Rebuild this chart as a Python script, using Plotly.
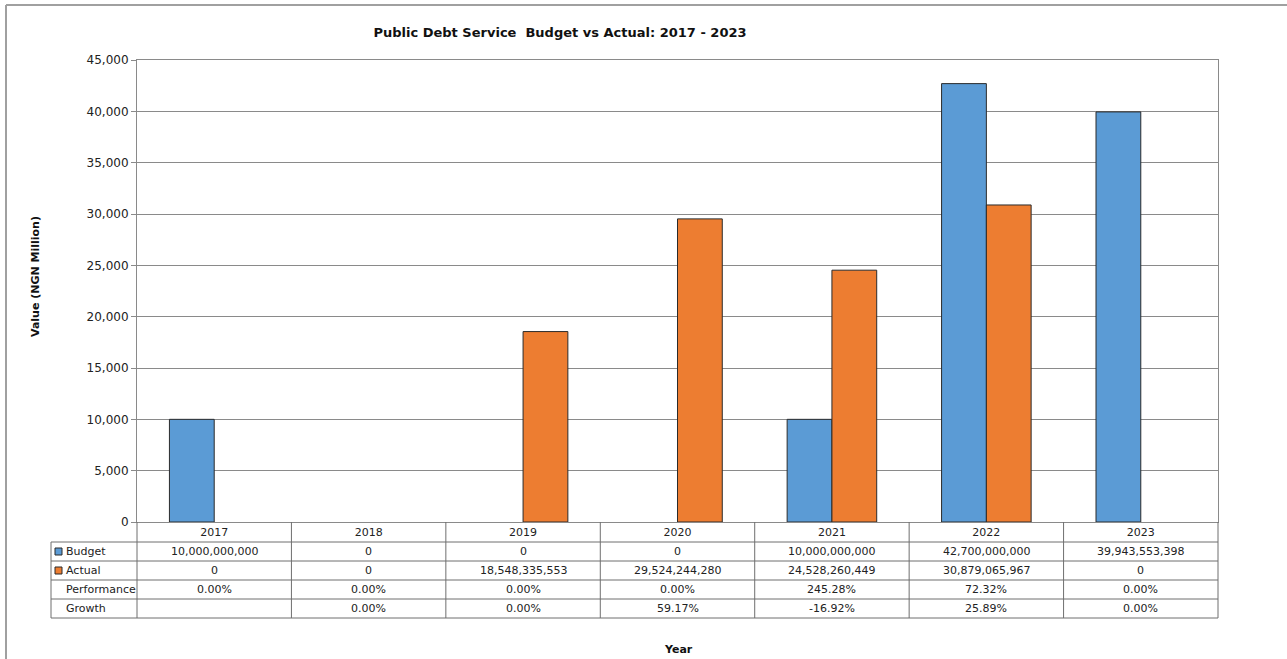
import plotly.graph_objects as go

# ---- data -------------------------------------------------------------
years = ["2017", "2018", "2019", "2020", "2021", "2022", "2023"]
budget = [10000000000, 0, 0, 0, 10000000000, 42700000000, 39943553398]
actual = [0, 0, 18548335553, 29524244280, 24528260449, 30879065967, 0]
performance = ["0.00%", "0.00%", "0.00%", "0.00%", "245.28%", "72.32%", "0.00%"]
growth = ["", "0.00%", "0.00%", "59.17%", "-16.92%", "25.89%", "0.00%"]

series_names = ["Budget", "Actual"]
series_colors = ["#5B9BD5", "#ED7D31"]
y_ticks = list(range(0, 45001, 5000))

# ---- page geometry (pixels) ------------------------------------------
W, H = 1287, 659
PL, PR, PT, PB = 137, 1218, 60, 522  # plot area edges
FONT = "DejaVu Sans"
TXT = "#222222"
GRID = "#8a8a8a"


def px_x(x):
    return (x - PL) / (PR - PL)


def px_y(y):
    return (PB - y) / (PB - PT)


fig = go.Figure()
for name, vals, col in zip(series_names, [budget, actual], series_colors):
    # amounts are shown in NGN million; empty years get no bar
    fig.add_trace(go.Bar(
        x=years, y=[v / 1e6 if v else None for v in vals], name=name,
        marker=dict(color=col, line=dict(color="#2b2b2b", width=1)),
    ))

shapes = []
annotations = []

# ---- data table under the axis ---------------------------------------
row_edges = [522, 542, 561, 580, 599, 618]
label_left = 51
n = len(years)
col_edges = [i / n for i in range(n + 1)]
line_style = dict(color="#6f6f6f", width=1)

# horizontal rules
for ry in row_edges[1:]:
    shapes.append(dict(type="line", xref="paper", yref="paper",
                       x0=px_x(label_left), x1=1, y0=px_y(ry), y1=px_y(ry),
                       line=line_style))
# column separators
for cx in col_edges:
    shapes.append(dict(type="line", xref="paper", yref="paper",
                       x0=cx, x1=cx, y0=px_y(row_edges[0]), y1=px_y(row_edges[-1]),
                       line=line_style))
shapes.append(dict(type="line", xref="paper", yref="paper",
                   x0=px_x(label_left), x1=px_x(label_left),
                   y0=px_y(row_edges[1]), y1=px_y(row_edges[-1]), line=line_style))

row_labels = ["Budget", "Actual", "Performance", "Growth"]
row_values = [[f"{v:,}" for v in budget], [f"{v:,}" for v in actual], performance, growth]

for r, (lab, vals) in enumerate(zip(row_labels, row_values)):
    top, bot = row_edges[r + 1], row_edges[r + 2]
    yc = px_y((top + bot) / 2)
    annotations.append(dict(text=lab, xref="paper", yref="paper", x=px_x(64), y=yc,
                            xanchor="left", yanchor="middle", showarrow=False,
                            font=dict(family=FONT, size=11, color=TXT)))
    if r < len(series_colors):
        shapes.append(dict(type="rect", xref="paper", yref="paper",
                           x0=px_x(55), x1=px_x(62),
                           y0=yc - 3.5 / (PB - PT), y1=yc + 3.5 / (PB - PT),
                           fillcolor=series_colors[r], line=dict(color="#2b2b2b", width=1)))
    for c, v in enumerate(vals):
        annotations.append(dict(text=v, xref="paper", yref="paper", x=(c + 0.5) / n, y=yc,
                                xanchor="center", yanchor="middle", showarrow=False,
                                font=dict(family=FONT, size=11, color=TXT)))

# outer frame (top and left edges)
shapes.append(dict(type="line", xref="paper", yref="paper",
                   x0=px_x(6), x1=px_x(W), y0=px_y(5), y1=px_y(5),
                   line=dict(color="#a0a0a0", width=2)))
shapes.append(dict(type="line", xref="paper", yref="paper",
                   x0=px_x(6), x1=px_x(6), y0=px_y(5), y1=px_y(H + 5),
                   line=dict(color="#a0a0a0", width=2)))

# axis titles
annotations.append(dict(text="<b>Value (NGN Million)</b>", xref="paper", yref="paper",
                        x=px_x(35), y=px_y(277), textangle=-90, showarrow=False,
                        xanchor="center", yanchor="middle",
                        font=dict(family=FONT, size=11, color="#111111")))
annotations.append(dict(text="<b>Year</b>", xref="paper", yref="paper",
                        x=px_x(678), y=px_y(649), showarrow=False,
                        xanchor="center", yanchor="middle",
                        font=dict(family=FONT, size=11, color="#111111")))

fig.update_layout(
    width=W, height=H,
    margin=dict(l=PL, r=W - PR, t=PT, b=H - PB, autoexpand=False),
    paper_bgcolor="white", plot_bgcolor="white",
    showlegend=False,
    barmode="group", bargap=0.42, bargroupgap=0,
    title=dict(text="<b>Public Debt Service  Budget vs Actual: 2017 - 2023</b>",
               x=560 / W, xanchor="center",
               y=1 - 32 / H, yanchor="middle",
               font=dict(family=FONT, size=13, color="#111111")),
    font=dict(family=FONT, size=11, color=TXT),
    shapes=shapes,
    annotations=annotations,
)
fig.update_xaxes(type="category", range=[-0.5, n - 0.5], showgrid=False,
                 showline=True, linecolor=GRID, linewidth=1, mirror=True,
                 ticks="", ticklen=0, tickfont=dict(family=FONT, size=11, color=TXT),
                 automargin=False)
fig.update_yaxes(range=[0, 45000], tickvals=y_ticks,
                 ticktext=[f"{v:,}" for v in y_ticks],
                 showgrid=True, gridcolor=GRID, gridwidth=1,
                 showline=True, linecolor=GRID, linewidth=1, mirror=True,
                 ticks="outside", ticklen=5, tickcolor=GRID,
                 tickfont=dict(family=FONT, size=12, color=TXT),
                 zeroline=False, automargin=False)

fig.write_html("out.html")
